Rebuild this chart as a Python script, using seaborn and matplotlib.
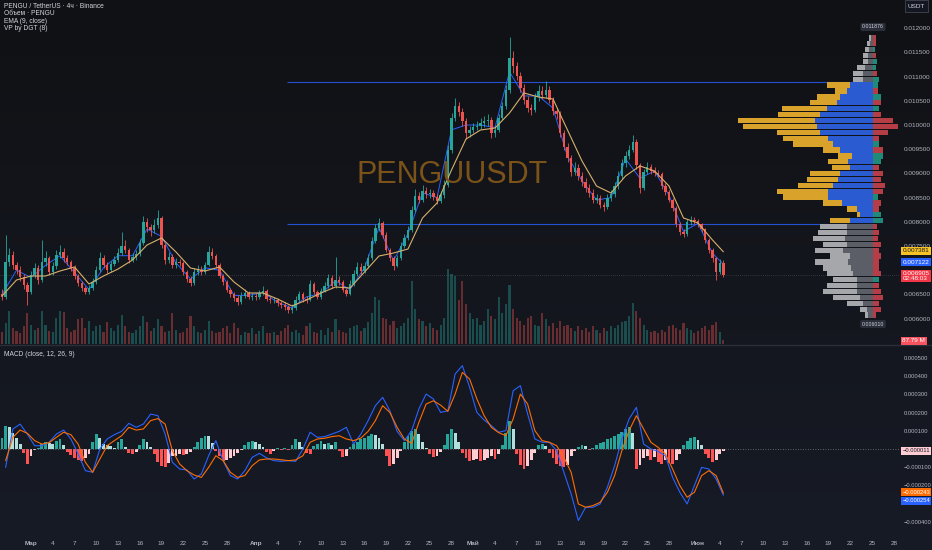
import numpy as np
import pandas as pd
import seaborn as sns
import matplotlib.pyplot as plt
import matplotlib.dates as mdates
from matplotlib.colors import LinearSegmentedColormap
from matplotlib.lines import Line2D

# ---- data (12h steps, starting 25 Feb 2025) ----
first_open = 0.00650
closes = [
    0.006447, 0.007170, 0.007315, 0.007108, 0.007005, 0.006860, 0.006695, 0.006550, 0.006901, 0.007046,
    0.006798, 0.007170, 0.007253, 0.006963, 0.007087, 0.007315, 0.007377, 0.007253, 0.007170, 0.007046,
    0.006881, 0.006736, 0.006633, 0.006550, 0.006633, 0.006757, 0.007005, 0.007253, 0.007108, 0.007005,
    0.007129, 0.007211, 0.007356, 0.007501, 0.007418, 0.007211, 0.007273, 0.007335, 0.007563, 0.007996,
    0.007893, 0.007831, 0.007934, 0.008079, 0.007521, 0.007211, 0.007273, 0.007108, 0.007170, 0.007149,
    0.006963, 0.006819, 0.006736, 0.006963, 0.007005, 0.006963, 0.007108, 0.007377, 0.007294, 0.007108,
    0.006881, 0.006757, 0.006592, 0.006509, 0.006426, 0.006344, 0.006468, 0.006530, 0.006447, 0.006468,
    0.006447, 0.006530, 0.006571, 0.006406, 0.006385, 0.006385, 0.006323, 0.006282, 0.006241, 0.006178,
    0.006220, 0.006385, 0.006509, 0.006406, 0.006385, 0.006716, 0.006550, 0.006447, 0.006571, 0.006674,
    0.006840, 0.006674, 0.006798, 0.006757, 0.006592, 0.006509, 0.006716, 0.006922, 0.007067, 0.006984,
    0.007087, 0.007253, 0.007604, 0.007873, 0.007976, 0.007728, 0.007418, 0.007253, 0.007087, 0.007253,
    0.007501, 0.007666, 0.007831, 0.008244, 0.008534, 0.008451, 0.008637, 0.008575, 0.008596, 0.008513,
    0.008430, 0.008554, 0.008761, 0.009484, 0.010145, 0.010393, 0.010269, 0.010083, 0.009835, 0.009897,
    0.009959, 0.009980, 0.010042, 0.010083, 0.010104, 0.009835, 0.009897, 0.010145, 0.010393, 0.010724,
    0.011385, 0.011219, 0.011013, 0.010765, 0.010517, 0.010352, 0.010310, 0.010579, 0.010703, 0.010620,
    0.010724, 0.010517, 0.010290, 0.010228, 0.009835, 0.009546, 0.009319, 0.009029, 0.009112, 0.008947,
    0.008823, 0.008699, 0.008596, 0.008451, 0.008492, 0.008348, 0.008306, 0.008492, 0.008575, 0.008740,
    0.008947, 0.009215, 0.009360, 0.009484, 0.009649, 0.009174, 0.008699, 0.009029, 0.009133, 0.009050,
    0.009009, 0.008988, 0.008740, 0.008616, 0.008451, 0.008286, 0.007955, 0.007790, 0.007749, 0.007996,
    0.008038, 0.008017, 0.007955, 0.007852, 0.007625, 0.007418, 0.007253, 0.006963, 0.007149, 0.006905,
]
highs = [
    0.00662, 0.00773, 0.00745, 0.00740, 0.00718, 0.00708, 0.00692, 0.00675, 0.00698, 0.00715,
    0.00710, 0.00762, 0.00740, 0.00730, 0.00718, 0.00742, 0.00752, 0.00745, 0.00732, 0.00722,
    0.00710, 0.00692, 0.00678, 0.00668, 0.00670, 0.00683, 0.00708, 0.00738, 0.00731, 0.00716,
    0.00720, 0.00730, 0.00745, 0.00780, 0.00762, 0.00746, 0.00735, 0.00742, 0.00765, 0.00812,
    0.00808, 0.00795, 0.00805, 0.00824, 0.00812, 0.00756, 0.00738, 0.00733, 0.00726, 0.00724,
    0.00719, 0.00700, 0.00688, 0.00704, 0.00710, 0.00708, 0.00718, 0.00750, 0.00746, 0.00734,
    0.00714, 0.00693, 0.00680, 0.00664, 0.00656, 0.00648, 0.00654, 0.00661, 0.00658, 0.00653,
    0.00652, 0.00660, 0.00668, 0.00661, 0.00646, 0.00645, 0.00642, 0.00637, 0.00634, 0.00629,
    0.00630, 0.00646, 0.00658, 0.00656, 0.00646, 0.00680, 0.00676, 0.00660, 0.00664, 0.00675,
    0.00692, 0.00690, 0.00728, 0.00688, 0.00679, 0.00664, 0.00679, 0.00700, 0.00716, 0.00714,
    0.00716, 0.00733, 0.00768, 0.00796, 0.00808, 0.00802, 0.00778, 0.00746, 0.00730, 0.00732,
    0.00758, 0.00774, 0.00792, 0.00832, 0.00868, 0.00862, 0.00876, 0.00872, 0.00868, 0.00866,
    0.00858, 0.00864, 0.00886, 0.00958, 0.01025, 0.01056, 0.01048, 0.01036, 0.01014, 0.00998,
    0.01004, 0.01008, 0.01014, 0.01018, 0.01022, 0.01016, 0.00998, 0.01022, 0.01048, 0.01082,
    0.01182, 0.01152, 0.01130, 0.01110, 0.01084, 0.01060, 0.01044, 0.01066, 0.01082, 0.01080,
    0.01090, 0.01080, 0.01058, 0.01036, 0.01030, 0.00990, 0.00962, 0.00938, 0.00924, 0.00920,
    0.00902, 0.00890, 0.00878, 0.00868, 0.00858, 0.00856, 0.00842, 0.00858, 0.00866, 0.00882,
    0.00904, 0.00930, 0.00946, 0.00958, 0.00980, 0.00972, 0.00922, 0.00910, 0.00924, 0.00920,
    0.00914, 0.00908, 0.00902, 0.00880, 0.00866, 0.00850, 0.00832, 0.00800, 0.00786, 0.00806,
    0.00812, 0.00810, 0.00806, 0.00798, 0.00788, 0.00766, 0.00746, 0.00728, 0.00724, 0.00722,
]
lows = [
    0.00638, 0.00641, 0.00708, 0.00702, 0.00692, 0.00678, 0.00662, 0.00628, 0.00651, 0.00683,
    0.00672, 0.00675, 0.00708, 0.00690, 0.00690, 0.00703, 0.00726, 0.00718, 0.00710, 0.00698,
    0.00682, 0.00667, 0.00657, 0.00650, 0.00651, 0.00659, 0.00672, 0.00696, 0.00704, 0.00694,
    0.00696, 0.00708, 0.00717, 0.00731, 0.00735, 0.00714, 0.00716, 0.00721, 0.00729, 0.00752,
    0.00780, 0.00770, 0.00776, 0.00788, 0.00745, 0.00713, 0.00715, 0.00705, 0.00704, 0.00708,
    0.00690, 0.00676, 0.00668, 0.00670, 0.00690, 0.00690, 0.00692, 0.00708, 0.00723, 0.00705,
    0.00683, 0.00670, 0.00654, 0.00645, 0.00637, 0.00628, 0.00630, 0.00642, 0.00640, 0.00639,
    0.00638, 0.00640, 0.00648, 0.00636, 0.00633, 0.00632, 0.00627, 0.00622, 0.00618, 0.00611,
    0.00612, 0.00618, 0.00634, 0.00635, 0.00632, 0.00636, 0.00651, 0.00640, 0.00641, 0.00654,
    0.00664, 0.00664, 0.00664, 0.00670, 0.00655, 0.00646, 0.00648, 0.00668, 0.00689, 0.00693,
    0.00694, 0.00705, 0.00722, 0.00756, 0.00782, 0.00766, 0.00737, 0.00720, 0.00700, 0.00706,
    0.00721, 0.00746, 0.00762, 0.00780, 0.00820, 0.00838, 0.00840, 0.00850, 0.00850, 0.00845,
    0.00837, 0.00838, 0.00850, 0.00872, 0.00942, 0.01008, 0.01018, 0.00998, 0.00972, 0.00976,
    0.00984, 0.00989, 0.00992, 0.00996, 0.00998, 0.00974, 0.00976, 0.00985, 0.01010, 0.01034,
    0.01066, 0.01108, 0.01092, 0.01068, 0.01044, 0.01026, 0.01020, 0.01026, 0.01050, 0.01054,
    0.01056, 0.01046, 0.01020, 0.01012, 0.00976, 0.00948, 0.00924, 0.00894, 0.00896, 0.00886,
    0.00874, 0.00862, 0.00852, 0.00838, 0.00838, 0.00828, 0.00822, 0.00826, 0.00843, 0.00852,
    0.00868, 0.00888, 0.00914, 0.00930, 0.00944, 0.00910, 0.00860, 0.00866, 0.00898, 0.00898,
    0.00894, 0.00892, 0.00868, 0.00856, 0.00840, 0.00822, 0.00790, 0.00772, 0.00769, 0.00770,
    0.00794, 0.00796, 0.00790, 0.00780, 0.00756, 0.00736, 0.00718, 0.00680, 0.00692, 0.00686,
]
# volume, millions
volumes = [
    308, 528, 814, 396, 330, 264, 440, 770, 484, 352,
    396, 836, 484, 330, 308, 660, 814, 792, 396, 308,
    352, 616, 660, 396, 572, 330, 440, 484, 308, 550,
    396, 330, 484, 726, 440, 308, 264, 352, 440, 704,
    550, 330, 396, 616, 440, 308, 330, 770, 352, 264,
    308, 396, 704, 440, 308, 264, 352, 572, 330, 264,
    308, 396, 440, 264, 528, 396, 220, 308, 264, 396,
    242, 330, 440, 286, 264, 308, 220, 330, 396, 484,
    308, 352, 264, 220, 440, 528, 308, 264, 352, 220,
    396, 308, 616, 352, 308, 264, 396, 440, 484, 330,
    396, 550, 770, 1166, 1100, 660, 616, 484, 572, 396,
    440, 528, 660, 1584, 880, 616, 572, 440, 528, 396,
    352, 484, 660, 1870, 1760, 1694, 1100, 1584, 990, 770,
    616, 660, 484, 572, 880, 704, 616, 1166, 770, 990,
    1474, 880, 660, 572, 484, 660, 704, 484, 440, 770,
    616, 440, 528, 396, 572, 440, 484, 396, 330, 440,
    352, 396, 308, 440, 352, 264, 396, 330, 440, 396,
    484, 550, 572, 704, 1034, 836, 660, 484, 352, 308,
    330, 264, 352, 308, 440, 484, 396, 352, 528, 396,
    352, 264, 330, 396, 440, 352, 484, 550, 308, 87.79,
]
# EMA (tan) and fast average (blue), every 4th bar + last bar
ema_slow = [
    0.006468, 0.006798, 0.006881, 0.006881, 0.006984, 0.007067, 0.006716, 0.006881, 0.007025, 0.007211,
    0.007521, 0.007666, 0.007377, 0.007046, 0.006984, 0.007067, 0.006757, 0.006530, 0.006530, 0.006406,
    0.006261, 0.006385, 0.006530, 0.006654, 0.006633, 0.006963, 0.007294, 0.007356, 0.007439, 0.008079,
    0.008389, 0.009071, 0.009711, 0.009897, 0.009938, 0.010248, 0.010662, 0.010579, 0.010538, 0.009897,
    0.009257, 0.008740, 0.008596, 0.008947, 0.009154, 0.009050, 0.008740, 0.008079, 0.007976, 0.007625,
    0.007381,
]
ema_fast = [
    0.00650, 0.00700, 0.00685, 0.00710, 0.00730, 0.00695, 0.00660, 0.00705, 0.00730, 0.00730,
    0.00785, 0.00770, 0.00715, 0.00682, 0.00705, 0.00700, 0.00648, 0.00648, 0.00654, 0.00634,
    0.00622, 0.00645, 0.00652, 0.00678, 0.00660, 0.00705, 0.00788, 0.00720, 0.00775, 0.00860,
    0.00850, 0.00990, 0.01000, 0.01000, 0.00995, 0.01110, 0.01060, 0.01060, 0.01035, 0.00935,
    0.00885, 0.00845, 0.00850, 0.00930, 0.00890, 0.00905, 0.00855, 0.00780, 0.00797, 0.00735,
    0.007122,
]
# MACD (12, 26, 9) in millionths; lines every 2nd bar, histogram every bar
macd_line = [
    -101, 110, 137, 82, 18, 18, 37, 82, 104, 55,
    -27, -119, -128, 0, 55, 79, 97, 141, 119, 137,
    192, 183, 82, -73, -110, -115, -165, -137, -37, 46,
    -64, -146, -165, -119, -46, -24, -49, -64, -68, -64,
    -68, 0, 92, 64, 68, 82, 97, 119, 27, 82,
    156, 238, 284, 210, 97, 46, 101, 220, 302, 275,
    201, 210, 412, 458, 339, 201, 159, 128, 92, 101,
    320, 348, 192, 55, 37, 37, -9, -128, -247, -393,
    -320, -320, -302, -210, -92, 55, 165, 229, 27, 0,
    -13, -37, -156, -238, -302, -201, -101, -110, -165, -254,
]
signal_line = [
    -64, 64, 104, 86, 46, 27, 35, 64, 92, 79,
    27, -73, -128, -55, 18, 46, 73, 119, 104, 110,
    156, 167, 137, -9, -82, -119, -143, -156, -101, -37,
    -64, -128, -156, -146, -92, -60, -55, -55, -59, -64,
    -60, -37, 37, 55, 59, 68, 73, 55, 46, 60,
    97, 156, 238, 201, 119, 55, 31, 146, 247, 265,
    241, 207, 302, 421, 384, 275, 183, 119, 90, 73,
    165, 302, 247, 101, 46, 37, 18, -46, -128, -302,
    -320, -311, -293, -238, -146, -9, 101, 183, 110, 37,
    9, -27, -110, -201, -265, -238, -146, -119, -146, -243,
]
macd_hist = [
    60, 128, 120, 90, 60, 30, -20, -82, -40, -8,
    5, 30, 40, 35, 30, 46, 55, 20, -15, -35,
    -50, -60, -64, -50, -25, 40, 82, 60, 30, 20,
    15, 5, 40, 55, 10, -20, -27, -15, 20, 55,
    40, 10, -30, -70, -95, -100, -75, -40, -37, -30,
    -35, -25, -15, 10, 40, 60, 73, 70, 35, -10,
    -40, -64, -60, -50, -40, -20, -5, 20, 40, 46,
    40, 25, 10, -15, -27, -10, 5, -5, 4, -6,
    20, 55, 40, 10, -20, -27, 15, 30, 46, 25,
    35, 20, 40, -10, -46, -40, 10, 30, 40, 55,
    60, 70, 82, 75, 60, 30, -40, -92, -80, -50,
    -10, 40, 70, 100, 110, 80, 40, 5, -25, -46,
    -40, -15, 20, 80, 110, 90, 40, -20, -50, -64,
    -60, -55, -64, -60, -50, -40, -55, -30, 20, 90,
    156, 110, -30, -90, -110, -95, -60, -20, 20, 27,
    15, -20, -50, -80, -95, -100, -90, -40, -10, 10,
    20, 15, -8, 5, 20, 35, 40, 55, 60, 70,
    80, 95, 110, 119, 90, -110, -90, -50, -40, -60,
    -46, -70, -82, -60, -75, -80, -60, -30, 20, 45,
    60, 64, 50, 20, -30, -50, -73, -60, -30, -11,
]
# volume profile (48 rows from bottom to top), relative volume
vp_low, vp_high = 0.006013, 0.011860
va_low, va_high = 0.007962, 0.010885
vp_start = "2025-04-05 08:00"
vp_total = [8, 13, 26, 40, 50, 46, 40, 46, 50, 58, 43, 58, 50, 60, 55, 53, 43, 16, 26, 50,
            90, 96, 75, 66, 63, 41, 45, 35, 50, 80, 90, 96, 130, 135, 95, 91, 63, 56, 38, 46,
            20, 20, 16, 10, 10, 8, 6, 4]
vp_up = [5, 6, 10, 13, 16, 16, 16, 20, 22, 25, 23, 30, 26, 28, 26, 26, 23, 13, 16, 31,
         45, 45, 40, 35, 33, 23, 25, 21, 33, 40, 45, 53, 56, 58, 53, 46, 36, 33, 26, 23,
         10, 10, 8, 5, 5, 4, 3, 2]
vp_delta = [-3, -8, -6, -10, -8, -6, 6, -8, -6, -6, -8, -6, -8, -5, -6, -4, 10, 8, -6, -8,
            5, -10, -12, -8, -10, -6, 8, 10, -10, 6, -6, -15, -25, -20, -8, 6, -8, 8, -5, 5,
            6, -4, 3, 4, -3, 2, -3, -3]
price_ticks = [0.0060, 0.0065, 0.0075, 0.0080, 0.0085, 0.0090, 0.0095, 0.0100,
               0.0105, 0.0110, 0.0115, 0.0120]
macd_ticks = [0.0005, 0.0004, 0.0003, 0.0002, 0.0001, -0.0001, -0.0002, -0.0004]
month_names = ["Мар", "Апр", "Май", "Июн"]
tick_days = [1, 4, 7, 10, 13, 16, 19, 22, 25, 28]

# ---- styling ----
sns.set_theme(style="dark")
plt.rcParams['font.family'] = ['Liberation Sans', 'DejaVu Sans']
UP, DOWN = "#26a69a", "#ef5350"
TXT = "#b2b5be"
W, H = 932, 550
FS = 4.6
FSM = 4.2

def fpos(x, y):
    return x / W, 1 - y / H

fig = plt.figure(figsize=(W / 100, H / 100), dpi=100)
bg = fig.add_axes([0, 0, 1, 1], zorder=-10)
bg.imshow(np.linspace(0, 1, 256)[:, None], aspect="auto", extent=[0, 1, 0, 1],
          cmap=LinearSegmentedColormap.from_list("bg", ["#101114", "#171b26"]))
bg.axis("off")

ax = fig.add_axes([0, (H - 344) / H, 900 / W, 344 / H])
axm = fig.add_axes([0, (H - 533) / H, 900 / W, 188 / H], sharex=ax)
axv = ax.twinx()
for a in (ax, axm, axv):
    a.patch.set_visible(False)
    for s in a.spines.values():
        s.set_visible(False)
ax.set_zorder(axv.get_zorder() + 1)

times = pd.date_range("2025-02-25", periods=len(closes), freq="12h")
t = mdates.date2num(times)
c = np.array(closes)
o = np.array([first_open] + closes[:-1])
colors = np.where(c >= o, UP, DOWN)

# volume
axv.bar(t, volumes, width=0.28, color=colors, alpha=0.38, lw=0)
axv.set_ylim(0, 344 * 25)
axv.set_yticks([])

# candles
ax.vlines(t, lows, highs, color=colors, lw=0.6, zorder=3)
ax.bar(t, c - o, bottom=o, width=0.34, color=colors, lw=0, zorder=4)

idx = list(range(0, len(closes), 4)) + [len(closes) - 1]
sns.lineplot(x=t[idx], y=ema_fast, ax=ax, color="#2962ff", lw=0.7, zorder=2)
sns.lineplot(x=t[idx], y=ema_slow, ax=ax, color="#d8b06a", lw=0.8, zorder=5)

x0 = mdates.date2num(pd.Timestamp("2025-03-01")) - 31 / 7.25
x1 = x0 + 900 / 7.25
ax.set_xlim(x0, x1)
ax.set_ylim(0.012583 - 344 * 0.00002066, 0.012583)
ax.axhline(closes[-1], color="#787b86", lw=0.5, ls=(0, (1, 2)), alpha=0.6)

# value area lines
xs = mdates.date2num(pd.Timestamp(vp_start))
xe = x0 + 873 / 7.25
ax.hlines([va_low, va_high], xs, xe, color="#2962ff", lw=0.8, alpha=0.8, zorder=1)

ax.yaxis.tick_right()
ax.set_yticks(price_ticks)
ax.set_yticklabels([f"{v:.6f}" for v in price_ticks])
ax.tick_params(axis="y", length=0, pad=3, labelsize=FS, labelcolor=TXT)
ax.tick_params(axis="x", length=0, labelbottom=False)
ax.set_xlabel("")
ax.set_ylabel("")
ax.grid(False)

# volume profile overlay
axp = fig.add_axes(ax.get_position(), zorder=ax.get_zorder() + 1)
axp.patch.set_visible(False)
axp.axis("off")
axp.set_xlim(-873, 27)
axp.set_ylim(ax.get_ylim())
edges = np.linspace(vp_low, vp_high, len(vp_total) + 1)
rh = edges[1] - edges[0]
centers = edges[:-1] + rh / 2
in_va = (centers > va_low) & (centers < va_high)
tot = np.array(vp_total)
upv = np.array(vp_up)
axp.barh(centers, -tot, height=rh * 0.9, color=np.where(in_va, "#d9a22b", "#a6a7ab"), lw=0)
axp.barh(centers, -upv, height=rh * 0.9, color=np.where(in_va, "#2b5bd0", "#5b5e66"), lw=0)
dl = np.array(vp_delta)
axp.barh(centers, np.abs(dl), height=rh * 0.9, color=np.where(dl > 0, "#22a08a", "#d2454f"),
         alpha=0.85, lw=0)

# MACD pane
hist = np.array(macd_hist) * 1e-6
prev = np.concatenate([[0], hist[:-1]])
hcol = np.where(hist >= 0, np.where(hist >= prev, "#26a69a", "#b2dfdb"),
                np.where(hist <= prev, "#ff5252", "#ffcdd2"))
axm.bar(t, hist, width=0.4, color=hcol, lw=0)
sns.lineplot(x=t[1::2], y=np.array(macd_line) * 1e-6, ax=axm, color="#2962ff", lw=0.8)
sns.lineplot(x=t[1::2], y=np.array(signal_line) * 1e-6, ax=axm, color="#ff6d00", lw=0.8)
axm.axhline(0, color="#787b86", lw=0.6, ls=(0, (1, 2)))
axm.set_ylim(-84 / 18.2 * 0.0001, 104 / 18.2 * 0.0001)
axm.yaxis.tick_right()
axm.set_yticks(macd_ticks)
axm.set_yticklabels([f"{v:.6f}".replace("-", "\u2212") for v in macd_ticks])
axm.tick_params(axis="y", length=0, pad=2.5, labelsize=FSM, labelcolor=TXT)
axm.set_ylabel("")
axm.grid(False)

ticks, labels = [], []
for m, name in zip(range(3, 7), month_names):
    for d in tick_days:
        ticks.append(mdates.date2num(pd.Timestamp(2025, m, d)))
        labels.append(name if d == 1 else str(d))
axm.set_xticks(ticks)
axm.set_xticklabels(labels)
axm.tick_params(axis="x", length=0, pad=6, labelsize=FS, labelcolor=TXT)
for lab in axm.get_xticklabels():
    if lab.get_text() in month_names:
        lab.set_fontweight("bold")
axm.set_xlim(x0, x1)
axm.set_xlabel("")

fig.add_artist(Line2D([0, 1], [1 - 344.5 / H] * 2, color="#2a2e39", lw=1))

# texts
legend = ["PENGU / TetherUS · 4ч · Binance", "Объем · PENGU", "EMA (9, close)", "VP by DGT (8)"]
for k, s in enumerate(legend):
    fig.text(*fpos(4, 6 + 7.6 * k), s, fontsize=4.8, color="#d1d4dc", va="center")
fig.text(*fpos(4, 354), "MACD (close, 12, 26, 9)", fontsize=4.8, color="#d1d4dc", va="center")
fig.text(*fpos(452, 175), "PENGUUSDT", fontsize=22, color="#7b5319", ha="center", va="center")

tags = [
    (251, "0.007381", "#f7c325", "#131722", FS),
    (262, "0.007122", "#2962ff", "white", FS),
    (276, "0.006905\n02:48:03", "#f23645", "white", FS),
    (341, "87.79 M", "#f7525f", "white", FS),
    (451, "\u22120.000011", "#ffcdd2", "#131722", FSM),
    (492, "\u22120.000243", "#ff6d00", "white", FSM),
    (501, "\u22120.000254", "#2962ff", "white", FSM),
]
for y, s, fc, tc, fs in tags:
    fig.text(*fpos(902.5, y), s, fontsize=fs, color=tc, va="center", ha="left", linespacing=1.0,
             bbox=dict(boxstyle="square,pad=0.2", fc=fc, ec="none"))
fig.text(*fpos(908, 6), "USDT", fontsize=FS, color="#d1d4dc", va="center",
         bbox=dict(boxstyle="square,pad=0.5", fc="#131722", ec="#434651", lw=0.6))
for y, s in [(27, "0.011876"), (324, "0.006010")]:
    fig.text(*fpos(873, y), s, fontsize=3.8, color="#d1d4dc", ha="center", va="center",
             bbox=dict(boxstyle="round,pad=0.3", fc="#2a2e39", ec="none"))

fig.savefig("out.png", dpi=100, facecolor="#131519")
